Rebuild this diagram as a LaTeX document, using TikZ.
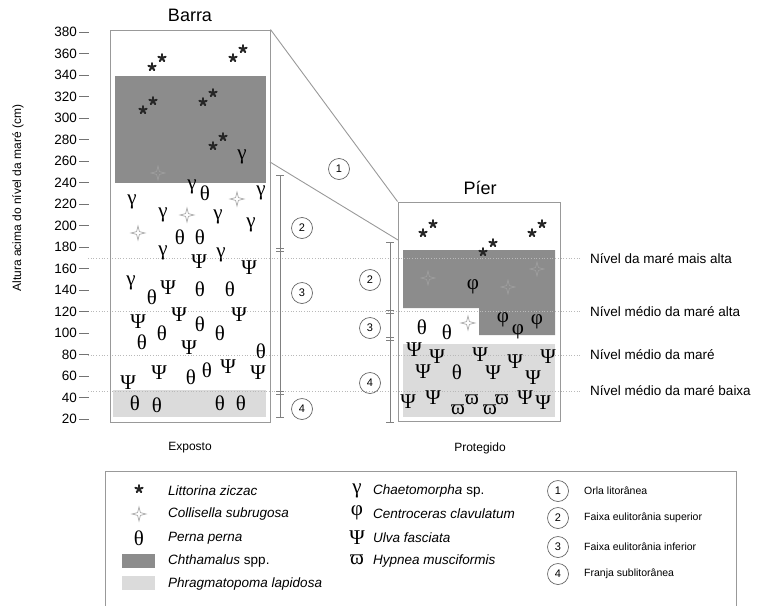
\documentclass[tikz,border=0pt]{standalone}
\usepackage{fontspec}
\setmainfont{Liberation Sans}
\newfontfamily\grkfont{Liberation Serif}
\usetikzlibrary{calc}

\definecolor{chtham}{gray}{0.55}
\definecolor{phrag}{gray}{0.86}
\definecolor{frame}{gray}{0.6}

\tikzset{
	aster/.pic = {\foreach \a in {-90,-18,54,126,198} \draw [line width=2.1pt, line cap=round, black!85] (0,0) -- (\a:3.8);},
	limpet/.pic = {\path [pic actions] (0,-7) -- (1.4,-1.4) -- (7,0) -- (1.4,1.4) -- (0,7) -- (-1.4,1.4) -- (-7,0) -- (-1.4,-1.4) -- cycle;},
}

\begin{document}
\begin{tikzpicture}[x=1pt, y=-1pt,
	sym/.style = {inner sep=0, font=\grkfont\fontsize{21}{21}\selectfont},
	bed/.style = {draw=frame, line width=1pt, inner sep=0},
	zone/.style = {circle, draw=black!60, line width=.7pt, minimum size=21, inner sep=0, font=\fontsize{11}{11}\selectfont},
	level/.style = {draw=gray!55, dotted, line width=.7pt},
	leg/.style = {anchor=west, inner sep=0, font=\fontsize{13.5}{15}\selectfont\itshape},
	zonetext/.style = {anchor=west, inner sep=0, font=\fontsize{10.5}{12}\selectfont},
	]
	\useasboundingbox (0,0) rectangle (759,605);

	\fill [chtham] (115,76) rectangle (266,183);
	\fill [phrag] (113,390) rectangle (266,417);
	\fill [chtham] (403,250) -- (555,250) -- (555,335) -- (479,335) -- (479,308) -- (403,308) -- cycle;
	\fill [phrag] (403,344) rectangle (555,417);

	\foreach \y in {258,311,355,391}
		\draw [level] (88,\y) -- (580,\y);

	\foreach \v in {20,40,...,380}
	{
		\pgfmathsetmacro\yy{32+(380-\v)*1.075}
		\draw [black!55, line width=.7pt] (79,\yy) -- (89,\yy);
		\node [left, inner sep=1pt, font=\fontsize{13.5}{15}\selectfont] (t\v) at (78,\yy) {\v};
	}
	\node [rotate=90, font=\fontsize{12}{14}\selectfont] (ytitle) at (18,198) {Altura acima do nível da maré (cm)};

	\node [bed, minimum width=160, minimum height=392] (barra) at (190,226) {};
	\node [bed, minimum width=162, minimum height=219] (pier) at (479,311.5) {};
	\node [font=\fontsize{18}{20}\selectfont] (barratitle) at (190,15) {Barra};
	\node [font=\fontsize{18}{20}\selectfont] (piertitle) at (480,188) {Píer};
	\node [font=\fontsize{12}{14}\selectfont] (exposto) at (190,448) {Exposto};
	\node [font=\fontsize{12}{14}\selectfont] (protegido) at (480,448) {Protegido};

	\coordinate (b2) at (270,162);
	\coordinate (p2) at (398,240);
	\draw [frame, line width=.9pt] (barra.north east) -- (pier.north west);
	\draw [frame, line width=.9pt] (b2) -- (p2);

	\foreach \x/\top/\bot/\sa/\sb in {280/175/417/250/393, 390/242/422/312/339}
	{
		\draw [black!50, line width=.7pt] (\x,\top) -- (\x,\bot);
		\draw [black!50, line width=.7pt] (\x-4,\top) -- (\x+4,\top) (\x-4,\bot) -- (\x+4,\bot);
		\draw [black!50, line width=.7pt] (\x-4,\sa-1.5) -- (\x+4,\sa-1.5) (\x-4,\sa+1.5) -- (\x+4,\sa+1.5);
		\draw [black!50, line width=.7pt] (\x-4,\sb-1.5) -- (\x+4,\sb-1.5) (\x-4,\sb+1.5) -- (\x+4,\sb+1.5);
	}

	\node [zone] (z1) at (339,169) {1};
	\node [zone] (bz2) at (302,228) {2};
	\node [zone] (bz3) at (302,293) {3};
	\node [zone] (bz4) at (302,409) {4};
	\node [zone] (pz2) at (370,280) {2};
	\node [zone] (pz3) at (370,328) {3};
	\node [zone] (pz4) at (370,383) {4};

	\foreach \y/\txt [count=\i] in {259/Nível da maré mais alta, 312/Nível médio da maré alta, 355/Nível médio da maré, 391/Nível médio da maré baixa}
		\node [anchor=west, inner sep=0, font=\fontsize{13.5}{15}\selectfont] (lev\i) at (590,\y) {\txt};

	\foreach \x/\y in {152/67, 233/58, 143/110, 203/102, 213/146, 423/233, 483/252, 532/233}
	{
		\pic at (\x,\y) {aster};
		\pic at (\x+10,\y-9) {aster};
	}

	\foreach \x/\y in {158/173, 428/278, 508/287, 537/269}
		\pic [draw=gray!75, line width=.7pt] at (\x,\y) {limpet};
	\foreach \x/\y in {237/199, 187/215, 138/233, 468/323}
		\pic [draw=gray!70, fill=white, line width=.7pt] at (\x,\y) {limpet};

	\foreach \x/\y [count=\i] in {242/157, 192/187, 261/193, 132/202, 163/215, 218/217, 251/225, 163/253, 221/255, 131/283}
		\node [sym] (gam\i) at (\x,\y) {γ};
	\foreach \x/\y [count=\i] in {205/193, 180/237, 200/237, 152/297, 200/289, 230/289, 142/342, 162/333, 200/324, 220/333, 261/351, 191/377, 207/370, 135/403, 157/405, 220/403, 241/403, 422/327, 447/332, 457/372}
		\node [sym] (the\i) at (\x,\y) {θ};
	\foreach \x/\y [count=\i] in {199/262, 249/268, 168/288, 138/322, 179/315, 239/315, 189/348, 128/383, 159/373, 228/367, 258/373, 414/350, 437/357, 480/355, 515/362, 548/357, 423/372, 493/373, 533/378, 408/402, 433/398, 525/398, 543/403}
		\node [sym] (psi\i) at (\x,\y) {Ψ};
	\foreach \x/\y [count=\i] in {473/287, 503/320, 518/332, 537/322}
		\node [sym] (phi\i) at (\x,\y) {φ};
	\foreach \x/\y [count=\i] in {458/410, 472/400, 490/410, 502/400}
		\node [sym] (pi\i) at (\x,\y) {ϖ};

	\draw [frame, line width=1pt] (105,610) -- (105,471) -- (736,471) -- (736,610);

	\pic at (139,489) {aster};
	\pic [draw=gray!70, fill=white, line width=.7pt] at (139,514) {limpet};
	\node [sym] (lthe) at (139,538) {θ};
	\fill [chtham] (122,554) rectangle (155,568);
	\fill [phrag] (122,576) rectangle (155,590);
	\node [leg] (l1) at (168,491) {Littorina ziczac};
	\node [leg] (l2) at (168,514) {Collisella subrugosa};
	\node [leg] (l3) at (168,538) {Perna perna};
	\node [leg] (l4) at (168,561) {Chthamalus \upshape spp.};
	\node [leg] (l5) at (168,584) {Phragmatopoma lapidosa};

	\node [sym] (lgam) at (357,491) {γ};
	\node [sym] (lphi) at (357,513) {φ};
	\node [sym] (lpsi) at (357,538) {Ψ};
	\node [sym] (lpi) at (357,560) {ϖ};
	\node [leg] (l6) at (373,491) {Chaetomorpha \upshape sp.};
	\node [leg] (l7) at (373,514) {Centroceras clavulatum};
	\node [leg] (l8) at (373,538) {Ulva fasciata};
	\node [leg] (l9) at (373,561) {Hypnea musciformis};

	\foreach \y/\txt [count=\i] in {491/Orla litorânea, 518/Faixa eulitorânia superior, 547/Faixa eulitorânia inferior, 574/Franja sublitorânea}
	{
		\node [zone] (lz\i) at (558,\y) {\i};
		\node [zonetext] (lzt\i) at (584,\y) {\txt};
	}
\end{tikzpicture}
\end{document}
